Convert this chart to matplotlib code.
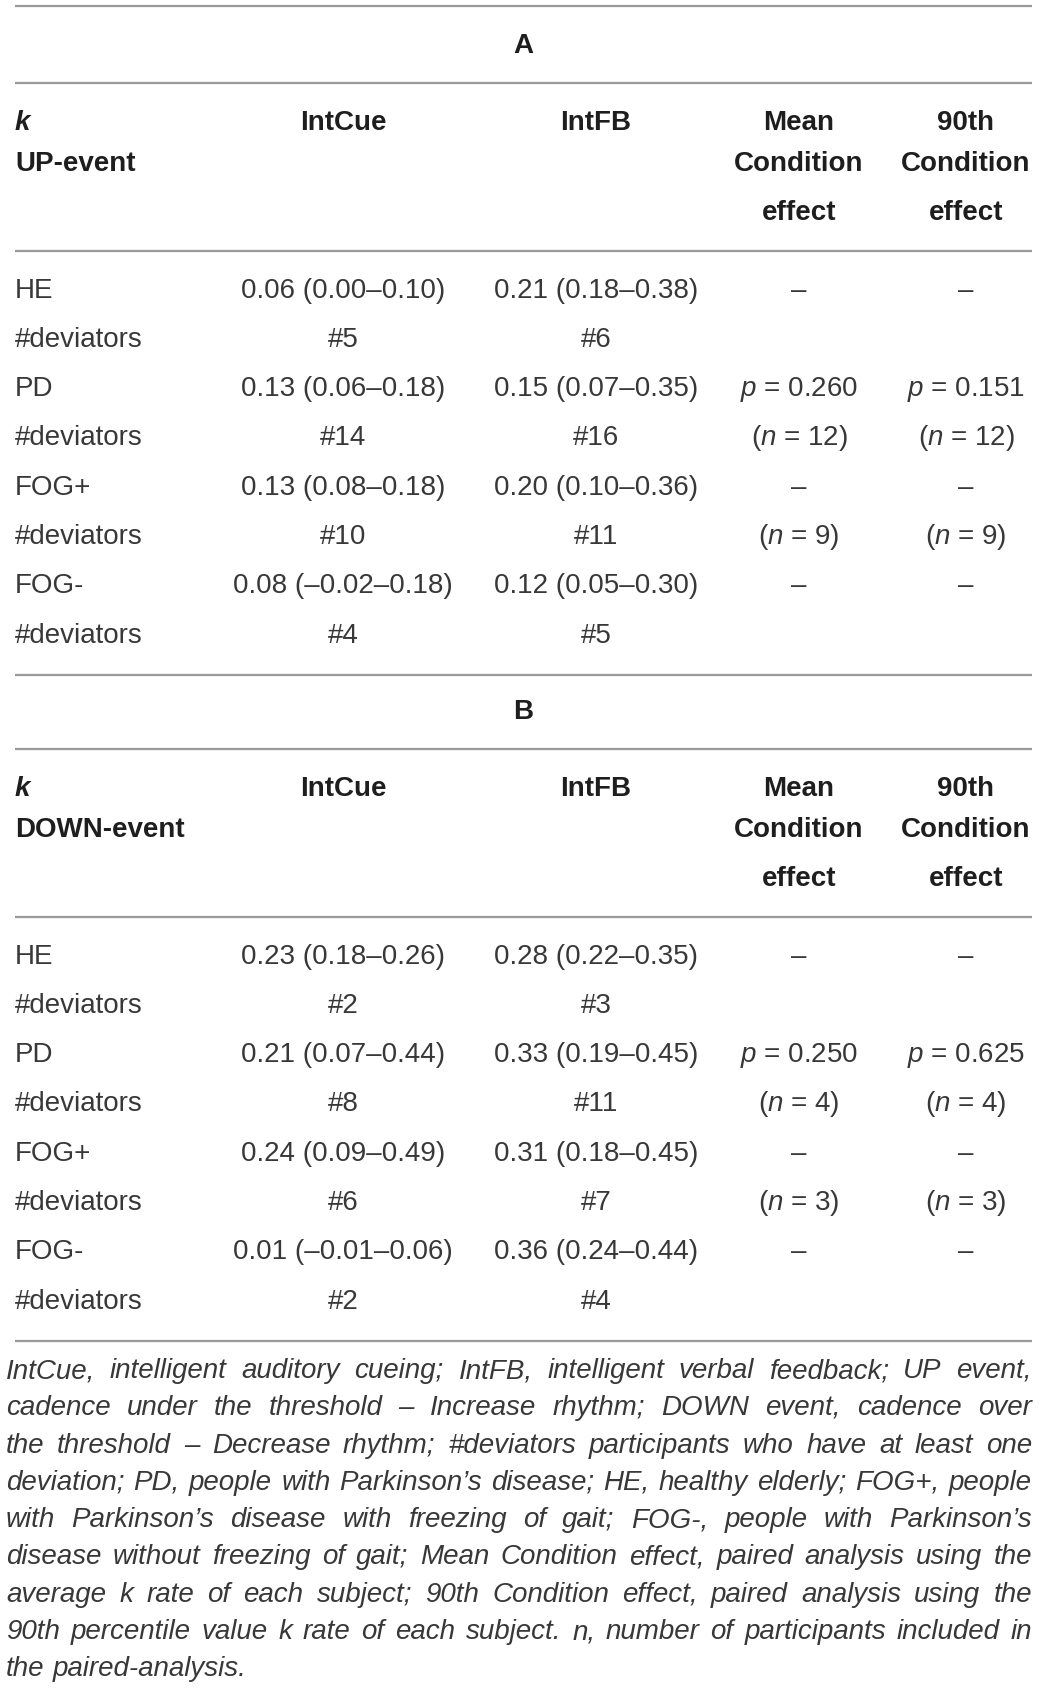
import matplotlib
matplotlib.use('Agg')
import matplotlib.pyplot as plt

plt.rcParams['font.family'] = ['Liberation Sans', 'DejaVu Sans']
plt.rcParams['mathtext.fontset'] = 'custom'
plt.rcParams['mathtext.rm'] = 'Liberation Sans'
plt.rcParams['mathtext.it'] = 'Liberation Sans:italic'

# данные таблицы
row_labels = ['HE', '#deviators', 'PD', '#deviators', 'FOG+', '#deviators', 'FOG-', '#deviators']
col_headers = [['IntCue'], ['IntFB'], ['Mean', 'Condition', 'effect'], ['90th', 'Condition', 'effect']]

up_intcue = ['0.06 (0.00–0.10)', '#5', '0.13 (0.06–0.18)', '#14', '0.13 (0.08–0.18)', '#10', '0.08 (–0.02–0.18)', '#4']
up_intfb = ['0.21 (0.18–0.38)', '#6', '0.15 (0.07–0.35)', '#16', '0.20 (0.10–0.36)', '#11', '0.12 (0.05–0.30)', '#5']
up_mean = ['–', '', r'$\mathit{p}$ = 0.260', r'($\mathit{n}$ = 12)', '–', r'($\mathit{n}$ = 9)', '–', '']
up_p90 = ['–', '', r'$\mathit{p}$ = 0.151', r'($\mathit{n}$ = 12)', '–', r'($\mathit{n}$ = 9)', '–', '']

down_intcue = ['0.23 (0.18–0.26)', '#2', '0.21 (0.07–0.44)', '#8', '0.24 (0.09–0.49)', '#6', '0.01 (–0.01–0.06)', '#2']
down_intfb = ['0.28 (0.22–0.35)', '#3', '0.33 (0.19–0.45)', '#11', '0.31 (0.18–0.45)', '#7', '0.36 (0.24–0.44)', '#4']
down_mean = ['–', '', r'$\mathit{p}$ = 0.250', r'($\mathit{n}$ = 4)', '–', r'($\mathit{n}$ = 3)', '–', '']
down_p90 = ['–', '', r'$\mathit{p}$ = 0.625', r'($\mathit{n}$ = 4)', '–', r'($\mathit{n}$ = 3)', '–', '']

footnote = [
    'IntCue, intelligent auditory cueing; IntFB, intelligent verbal feedback; UP event,',
    'cadence under the threshold – Increase rhythm; DOWN event, cadence over',
    'the threshold – Decrease rhythm; #deviators participants who have at least one',
    'deviation; PD, people with Parkinson’s disease; HE, healthy elderly; FOG+, people',
    'with Parkinson’s disease with freezing of gait;  FOG-, people with Parkinson’s',
    'disease without freezing of gait; Mean Condition effect, paired analysis using the',
    'average k rate of each subject; 90th Condition effect, paired analysis using the',
    '90th percentile value k rate of each subject. n, number of participants included in',
    'the paired-analysis.',
]

W, H = 1041, 1688
fig = plt.figure(figsize=(W / 100, H / 100), dpi=100)
ax = fig.add_axes([0, 0, 1, 1])
ax.set_xlim(0, W)
ax.set_ylim(H, 0)
ax.axis('off')

body_col = '#383838'
head_col = '#1e1e1e'
line_col = '#9a9a9a'
fs = 20
x_left, x_right = 15, 1032
col_x = [343, 596, 799, 966]


def hline(y):
    ax.plot([x_left, x_right], [y, y], color=line_col, lw=1.6, solid_capstyle='butt')


def draw_section(dy, label, event, cols, top_line=True):
    if top_line:
        hline(5.5 + dy)
    ax.text((x_left + x_right) / 2, 46 + dy, label, ha='center', va='center',
            fontsize=fs, fontweight='bold', color=head_col)
    hline(83 + dy)
    ax.text(x_left, 123 + dy, 'k', ha='left', va='center', fontsize=fs,
            fontweight='bold', style='italic', color=head_col)
    ax.text(x_left, 164 + dy, event, ha='left', va='center', fontsize=fs,
            fontweight='bold', color=head_col)
    head_y = [123, 164, 213]
    for cx, lines in zip(col_x, col_headers):
        for hy, s in zip(head_y, lines):
            ax.text(cx, hy + dy, s, ha='center', va='center', fontsize=fs,
                    fontweight='bold', color=head_col)
    hline(251 + dy)
    for i, lab in enumerate(row_labels):
        y = 291.5 + i * 49.3 + dy + 6
        ax.text(x_left, y, lab, ha='left', va='baseline', fontsize=fs, color=body_col)
        for cx, vals in zip(col_x, cols):
            if vals[i]:
                ax.text(cx, y, vals[i], ha='center', va='baseline', fontsize=fs, color=body_col)
    hline(675 + dy)


draw_section(0, 'A', 'UP-event', [up_intcue, up_intfb, up_mean, up_p90])
draw_section(666, 'B', 'DOWN-event', [down_intcue, down_intfb, down_mean, down_p90], top_line=False)

# примечание под таблицей, выравнивание по ширине
renderer = fig.canvas.get_renderer()
fn_left, fn_right = 6, 1032
fn_fs = 20
for j, line in enumerate(footnote):
    y = 1370 + j * 37.3 + 8
    words = line.split()
    texts = [ax.text(0, y, w, ha='left', va='baseline', fontsize=fn_fs,
                     style='italic', color=body_col) for w in words]
    widths = [t.get_window_extent(renderer).width for t in texts]
    if j < len(footnote) - 1 and len(words) > 1:
        gap = (fn_right - fn_left - sum(widths)) / (len(words) - 1)
    else:
        gap = fn_fs * 0.278 * 100 / 72
    x = fn_left
    for t, w in zip(texts, widths):
        t.set_x(x)
        x += w + gap

fig.savefig('out.png', dpi=100, facecolor='white')
